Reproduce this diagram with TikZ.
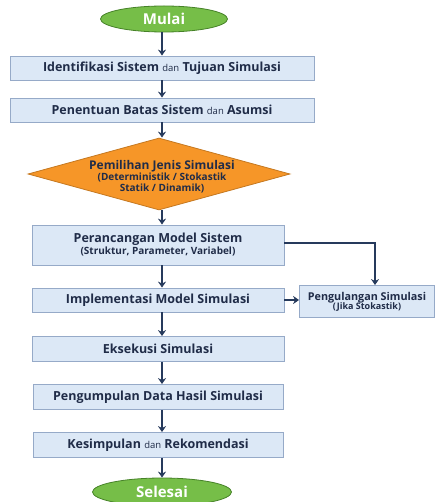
\documentclass[tikz,border=0pt]{standalone}
\usepackage{fontspec}
\setmainfont{Open Sans}
\usepackage{tikz}
\usetikzlibrary{arrows.meta,shapes.geometric,positioning}
\definecolor{fcnavy}{RGB}{32,44,72}
\definecolor{fcarrow}{RGB}{38,58,92}
\definecolor{fcboxfill}{RGB}{220,232,246}
\definecolor{fcboxdraw}{RGB}{150,170,200}
\definecolor{fcgreen}{RGB}{118,190,72}
\definecolor{fcgreendark}{RGB}{70,130,40}
\definecolor{fcorange}{RGB}{246,150,40}
\tikzstyle{arrow} = [-{Stealth[length=6pt,width=8pt]},color=fcarrow,line width=1.5pt]
\tikzstyle{process} = [rectangle, draw=fcboxdraw, fill=fcboxfill, thick, text=fcnavy, font=\bfseries\fontsize{12.5}{14}\selectfont, align=center, inner sep=0pt]
\tikzstyle{terminal} = [ellipse, draw=fcgreendark, fill=fcgreen, thick, text=white, font=\bfseries\fontsize{15}{17}\selectfont, inner sep=0pt]
\tikzstyle{decision} = [diamond, draw=fcorange!80!black, fill=fcorange, thick, text=fcnavy, align=center, inner sep=0pt]
\newcommand{\subtxt}{\fontsize{10}{11}\selectfont}
\newcommand{\dn}{{\mdseries\fontsize{9.5}{11}\selectfont dan}}
\begin{document}
\begin{tikzpicture}[x=1pt,y=-1pt]
\useasboundingbox (0,0) rectangle (436,502);
% Start and main steps
\node[terminal, minimum width=127pt, minimum height=26pt] (mulai) at (164,19) {Mulai};
\node[process, minimum width=304pt, minimum height=24pt] (ident) at (162,68) {Identifikasi Sistem \dn{} Tujuan Simulasi};
\node[process, minimum width=304pt, minimum height=24pt] (batas) at (162,110) {Penentuan Batas Sistem \dn{} Asumsi};
\node[decision, minimum width=262pt, minimum height=72pt, aspect=3.6] (jenis) at (159,174) {};
\node[align=center, text=fcnavy, font=\bfseries\fontsize{12}{13}\selectfont] (jenistxt) at (162,176.5) {Pemilihan Jenis Simulasi\\[-1.5pt]{\subtxt(Deterministik / Stokastik}\\[-2pt]{\subtxt Statik / Dinamik)}};
\node[process, minimum width=252pt, minimum height=40pt] (rancang) at (158,245) {Perancangan Model Sistem\\[-2pt]{\subtxt(Struktur, Parameter, Variabel)}};
\node[process, minimum width=252pt, minimum height=24pt] (impl) at (158,300) {Implementasi Model Simulasi};
\node[process, minimum width=135pt, minimum height=32pt, font=\bfseries\fontsize{10.8}{12}\selectfont] (ulang) at (367,301.5) {Pengulangan Simulasi\\[-3pt]{\fontsize{9}{10}\selectfont(Jika Stokastik)}};
\node[process, minimum width=252pt, minimum height=25pt] (eksekusi) at (158,349) {Eksekusi Simulasi};
\node[process, minimum width=250pt, minimum height=25pt] (kumpul) at (158,397) {Pengumpulan Data Hasil Simulasi};
\node[process, minimum width=250pt, minimum height=25pt] (simpul) at (158,445) {Kesimpulan \dn{} Rekomendasi};
\node[terminal, minimum width=139pt, minimum height=28pt] (selesai) at (162,492) {Selesai};

% Arrows
\draw[arrow] (mulai.south -| 162,0) -- (ident.north -| 162,0);
\draw[arrow] (ident.south -| 162,0) -- (batas.north -| 162,0);
\draw[arrow] (batas.south -| 162,0) -- (jenis.north -| 162,0);
\draw[arrow] (jenis.south -| 162,0) -- (rancang.north -| 162,0);
\draw[arrow] (rancang.south -| 162,0) -- (impl.north -| 162,0);
\draw[arrow] (impl.south -| 162,0) -- (eksekusi.north -| 162,0);
\draw[arrow] (eksekusi.south -| 162,0) -- (kumpul.north -| 162,0);
\draw[arrow] (kumpul.south -| 162,0) -- (simpul.north -| 162,0);
\draw[arrow] (simpul.south -| 162,0) -- (selesai.north -| 162,0);
\draw[arrow] (rancang.east |- 0,243) -| (ulang.north -| 375,0);
\draw[arrow] (impl.east) -- (ulang.west |- impl.east);
\end{tikzpicture}
\end{document}
